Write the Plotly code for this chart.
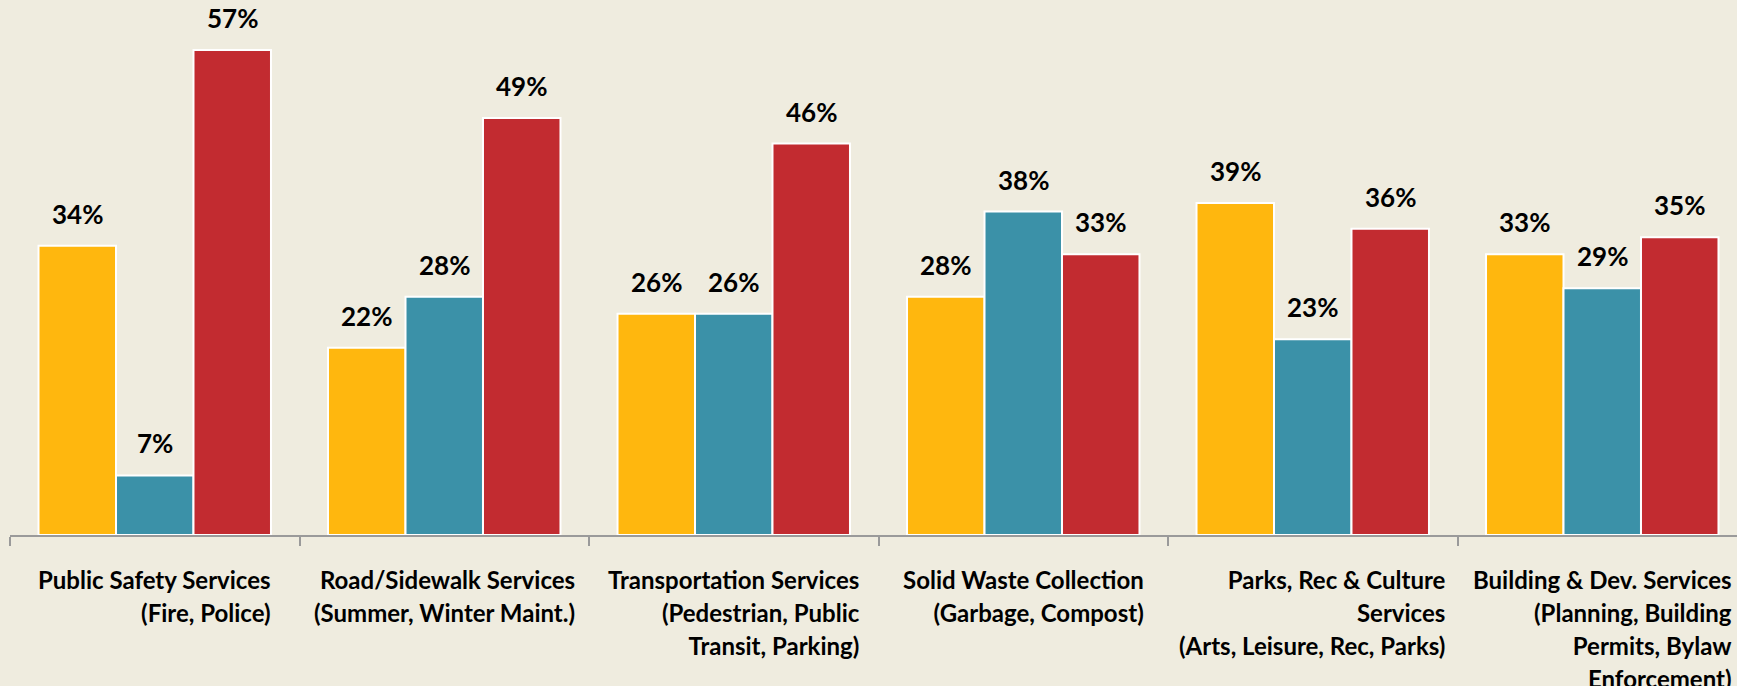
import plotly.graph_objs as go

# categories (label lines) and the three series
categories = [
    ["Public Safety Services", "(Fire, Police)"],
    ["Road/Sidewalk Services", "(Summer, Winter Maint.)"],
    ["Transportation Services", "(Pedestrian, Public", "Transit, Parking)"],
    ["Solid Waste Collection", "(Garbage, Compost)"],
    ["Parks, Rec & Culture", "Services", "(Arts, Leisure, Rec, Parks)"],
    ["Building & Dev. Services", "(Planning, Building", "Permits, Bylaw", "Enforcement)"],
]
series_a = [34, 22, 26, 28, 39, 33]
series_b = [7, 28, 26, 38, 23, 29]
series_c = [57, 49, 46, 33, 36, 35]

colors = ['#FFB70E', '#3B91A8', '#C22B30']
bg = '#EFECDF'
bargap = 0.197
n = len(categories)
xs = list(range(n))

fig = go.Figure()
all_series = [series_a, series_b, series_c]
for vals, col in zip(all_series, colors):
    fig.add_trace(go.Bar(
        x=xs, y=vals,
        marker=dict(color=col, line=dict(color='white', width=2)),
        showlegend=False, hoverinfo='skip'
    ))

annotations = []
# value labels above bars
w = (1 - bargap) / 3
for k, vals in enumerate(all_series):
    for i, v in enumerate(vals):
        annotations.append(dict(
            x=i + (k - 1) * w, y=v, xref='x', yref='y',
            text=f"{v}%", showarrow=False, yanchor='middle', yshift=32,
            font=dict(family='Lato', size=26, color='black', weight='bold')
        ))

# category labels: block centred, lines right aligned
for i, lines in enumerate(categories):
    txt = "<br>".join(f"<span style='font-size:24px'>{l}</span>" for l in lines)
    annotations.append(dict(
        x=i, y=0, xref='x', yref='paper', text=txt, showarrow=False,
        xanchor='center', yanchor='top', align='right', yshift=-28,
        font=dict(family='Lato', size=25.5, color='black', weight='bold')
    ))

fig.update_layout(
    width=1737, height=686,
    margin=dict(l=10, r=0, t=0, b=151),
    barmode='group', bargap=bargap, bargroupgap=0,
    plot_bgcolor=bg, paper_bgcolor=bg,
    xaxis=dict(
        range=[-0.5, -0.5 + 1727 / 289.5],
        showgrid=False, zeroline=False,
        showline=True, linecolor='#9A9A9A', linewidth=1.5,
        ticks='outside', tickvals=[i - 0.5 for i in range(n + 1)],
        ticklen=9, tickwidth=1.5, tickcolor='#9A9A9A',
        showticklabels=False
    ),
    yaxis=dict(range=[0, 535 / 8.51], visible=False),
    annotations=annotations
)

# drop the browser's default body margin so the figure sits at the corner
fig.write_html("out.html", config={'displayModeBar': False},
               post_script="document.body.style.margin='0';")
